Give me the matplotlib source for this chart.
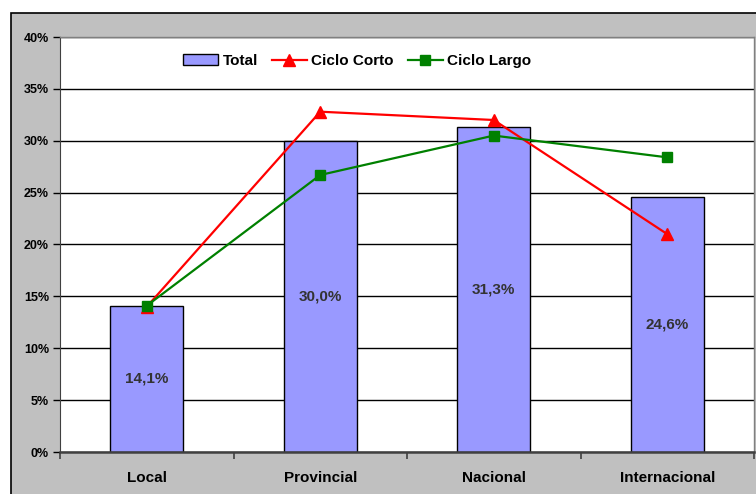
import matplotlib.pyplot as plt
import numpy as np
from matplotlib.patches import Rectangle
from matplotlib.ticker import FixedLocator, PercentFormatter

# Share of companies by market reach, total and split by cycle length
categories = ['Local', 'Provincial', 'Nacional', 'Internacional']
total = [14.1, 30.0, 31.3, 24.6]
ciclo_corto = [14.0, 32.8, 32.0, 21.0]
ciclo_largo = [14.1, 26.7, 30.5, 28.4]
bar_labels = ['14,1%', '30,0%', '31,3%', '24,6%']

plt.rcParams['font.family'] = ['Liberation Sans', 'DejaVu Sans']
plt.rcParams['font.weight'] = 'bold'

fig = plt.figure(figsize=(7.56, 4.94), dpi=100)
fig.patch.set_facecolor('white')

# grey chart-area frame behind the plot
fig.patches.append(Rectangle((11 / 756, -0.1), 1.2, 1.1 - 13 / 494,
                             transform=fig.transFigure, facecolor='#C0C0C0',
                             edgecolor='black', linewidth=1.2, zorder=-10))

ax = fig.add_axes([60 / 756, 42 / 494, 694 / 756, 415 / 494])
ax.set_facecolor('white')

x = np.arange(len(categories))
bars = ax.bar(x, total, width=0.42, color='#9999FF', edgecolor='black',
              linewidth=1, zorder=2, label='Total')
for xi, v, lab in zip(x, total, bar_labels):
    ax.text(xi, v / 2, lab, ha='center', va='center', fontsize=11,
            fontweight='bold', color='#333333', zorder=4)

l1, = ax.plot(x, ciclo_corto, color='#FF0000', linewidth=1.6, marker='^',
              markersize=9, zorder=3, label='Ciclo Corto')
l2, = ax.plot(x, ciclo_largo, color='#008000', linewidth=1.6, marker='s',
              markersize=7.5, zorder=3, label='Ciclo Largo')

ax.set_xlim(-0.5, 3.5)
ax.set_ylim(0, 40)
ax.set_yticks(np.arange(0, 41, 5))
ax.yaxis.set_major_formatter(PercentFormatter(decimals=0))
ax.yaxis.grid(True, color='black', linewidth=1)
ax.set_axisbelow(True)

ax.set_xticks(x)
ax.set_xticklabels(categories, fontsize=11, fontweight='bold')
ax.xaxis.set_minor_locator(FixedLocator(np.arange(-0.5, 3.6, 1)))
ax.tick_params(axis='x', which='major', length=0, pad=14)
ax.tick_params(axis='x', which='minor', length=5, width=1.2, color='#404040')
ax.tick_params(axis='y', labelsize=9, length=5, width=1, pad=3)
for lab in ax.get_yticklabels():
    lab.set_fontweight('bold')

for side in ['top', 'right']:
    ax.spines[side].set_color('#808080')
    ax.spines[side].set_linewidth(1)
ax.spines['left'].set_color('#404040')
ax.spines['bottom'].set_color('#404040')
ax.spines['bottom'].set_linewidth(1.8)

ax.legend(handles=[bars, l1, l2], loc='center', bbox_to_anchor=(0.428, 0.942),
          ncol=3, frameon=False, handlelength=2.3,
          handletextpad=0.3, columnspacing=0.9, prop={'weight': 'bold', 'size': 11})

fig.savefig('out.png', dpi=100)
